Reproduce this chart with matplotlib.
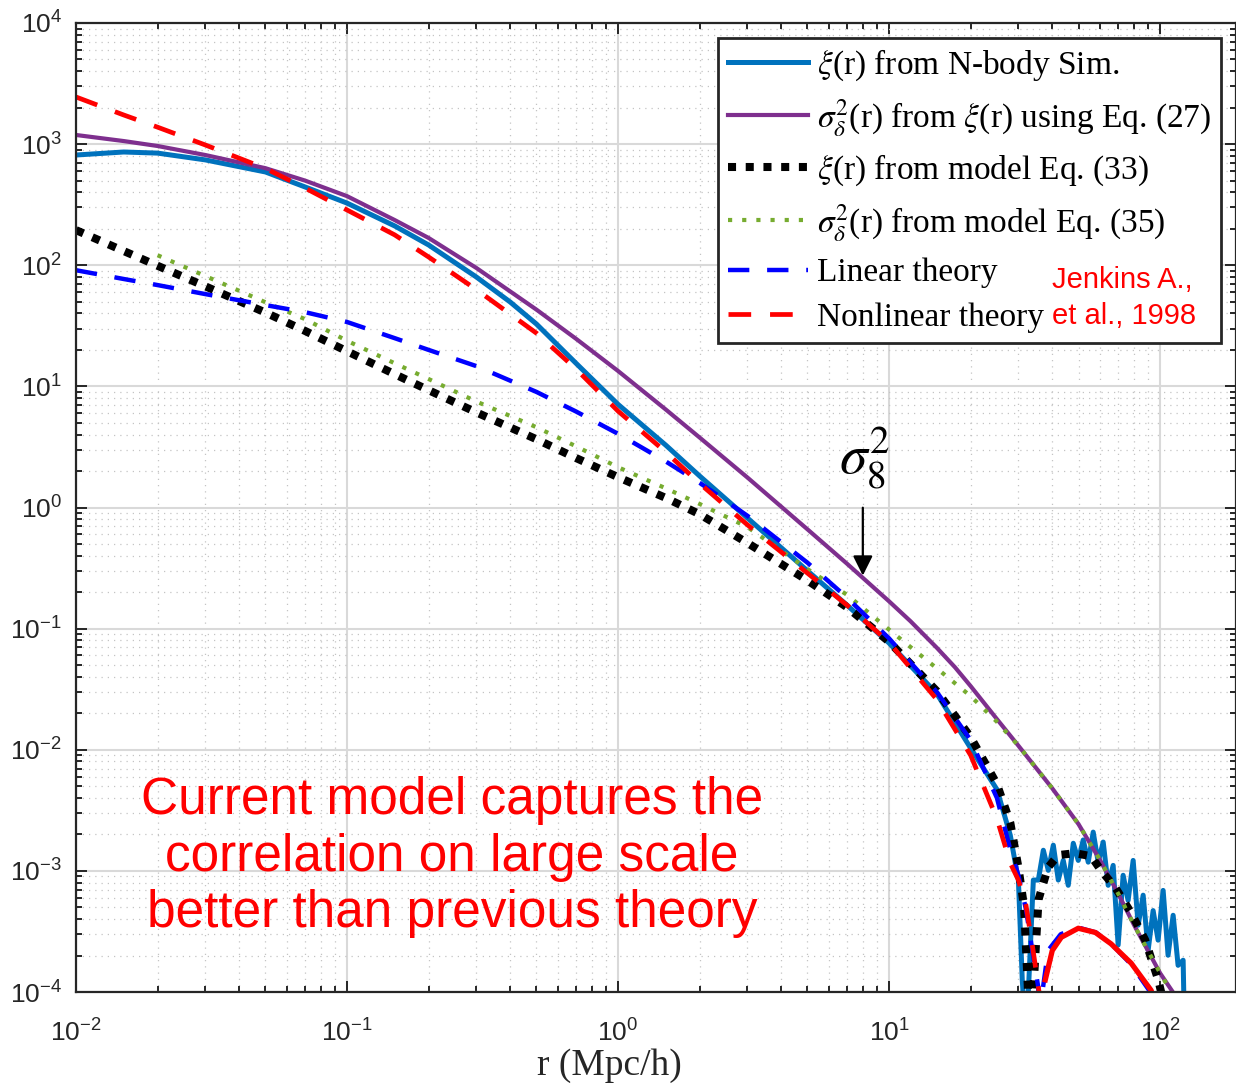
import matplotlib.pyplot as plt
from matplotlib.ticker import LogLocator, NullFormatter

# xi(r) from N-body simulation (blue solid), noisy past the zero crossing
r_nbody = [0.01, 0.015, 0.02, 0.03, 0.05, 0.07, 0.1, 0.15, 0.2, 0.3, 0.4, 0.5,
           0.7, 1, 1.5, 2, 3, 5, 7, 10, 15, 20, 25, 28, 30, 31, 31.8,
           32.65, 34.06, 35.53, 37.08, 38.68, 40.36, 42.10, 43.92, 45.82, 47.82,
           49.89, 52.04, 54.30, 56.64, 59.09, 61.66, 64.33, 67.11, 70.01, 73.04,
           76.20, 79.54, 82.99, 86.58, 90.33, 94.24, 98.31, 102.6, 107.0, 111.7,
           116.5, 121.6, 123]
xi_nbody = [813, 861, 843, 741, 589, 443, 326, 211, 147, 80, 49.7, 32.7,
            15.5, 7.1, 3.27, 1.82, 0.82, 0.30, 0.156, 0.076, 0.029, 0.0103,
            4.7e-3, 1.97e-3, 8.4e-4, 1.26e-4, 5e-5,
            1.0e-4, 8.4e-4, 8.4e-4, 1.48e-3, 1.01e-3, 1.63e-3, 8.4e-4, 1.22e-3,
            7.6e-4, 1.69e-3, 1.22e-3, 1.80e-3, 1.18e-3, 2.09e-3, 1.18e-3, 1.73e-3,
            7.6e-4, 1.11e-3, 2.44e-4, 9.2e-4, 5.7e-4, 1.22e-3, 3.56e-4, 6.3e-4,
            2.21e-4, 4.7e-4, 2.68e-4, 6.9e-4, 2.01e-4, 4.3e-4, 1.66e-4, 1.83e-4,
            5e-5]

# sigma^2(r) from xi(r) using Eq. (27) (purple)
r_sig = [0.01, 0.015, 0.02, 0.03, 0.05, 0.07, 0.1, 0.15, 0.2, 0.3, 0.5, 0.7,
         1, 1.5, 2, 3, 5, 7, 10, 12, 15, 17.5, 20, 25, 30, 40, 50, 60, 70, 80,
         100, 115]
sig_nbody = [1190, 1060, 965, 813, 633, 500, 372, 236, 168, 95, 43, 24.7,
             13.4, 6.44, 3.78, 1.77, 0.66, 0.343, 0.168, 0.115, 0.0695, 0.048,
             0.0335, 0.0179, 0.0108, 4.8e-3, 2.43e-3, 1.23e-3, 6.5e-4, 3.6e-4,
             1.43e-4, 9e-5]

# xi(r) from model Eq. (33) (black dotted)
r_model = [0.01, 0.015, 0.02, 0.03, 0.05, 0.07, 0.1, 0.15, 0.2, 0.3, 0.5, 0.7,
           1, 1.5, 2, 3, 5, 7, 10, 15, 20, 25, 28, 30, 31.5, 32.5, 33,
           35.6, 38.6, 42.1, 48.6, 55.7, 60.7, 68.3, 78.2, 88.0, 98.4, 102]
xi_model = [195, 131, 99, 67, 40.7, 28.7, 19.5, 12.6, 9.3, 6.1, 3.66, 2.56,
            1.78, 1.2, 0.88, 0.51, 0.25, 0.15, 0.078, 0.0305, 0.0127, 5.2e-3,
            2.5e-3, 1.07e-3, 5e-4, 1.1e-4, 3e-5,
            5.8e-4, 1.07e-3, 1.35e-3, 1.4e-3, 1.32e-3, 1.0e-3, 7.3e-4, 4.5e-4,
            2.7e-4, 1.26e-4, 9e-5]

# sigma^2(r) from model Eq. (35) (green dotted)
r_sig_model = [0.02, 0.03, 0.05, 0.07, 0.1, 0.15, 0.2, 0.3, 0.5, 0.7, 1, 1.5,
               2, 3, 5, 7, 10, 15, 20, 25, 30, 40, 50, 60, 70, 80, 100, 110]
sig_model = [121, 81.5, 49.5, 35.9, 23.8, 15.5, 11.5, 7.5, 4.6, 3.2, 2.15,
             1.44, 1.07, 0.69, 0.31, 0.19, 0.098, 0.047, 0.0277, 0.017, 0.0108,
             4.8e-3, 2.43e-3, 1.23e-3, 6.5e-4, 3.6e-4, 1.43e-4, 1e-4]

# Jenkins et al. 1998: linear theory (blue dashed)
r_lin = [0.01, 0.015, 0.02, 0.03, 0.05, 0.07, 0.1, 0.15, 0.2, 0.3, 0.5, 0.7,
         1, 1.5, 2, 3, 5, 7, 10, 15, 20, 25, 28, 30, 32, 34, 35.5, 36.5]
xi_lin = [91, 77, 68.6, 57.8, 46.9, 41, 34, 25, 20, 14.7, 9.0, 6.2, 4.06, 2.4,
          1.6, 0.855, 0.35, 0.18, 0.083, 0.030, 0.012, 4.0e-3, 1.5e-3, 9.2e-4,
          4.8e-4, 2.0e-4, 1.1e-4, 3e-5]
r_lin_far = [37, 38.6, 43, 50, 58, 66, 78, 92, 95]
xi_lin_far = [1.1e-4, 2.2e-4, 3.0e-4, 3.4e-4, 3.1e-4, 2.5e-4, 1.7e-4, 1.0e-4, 8e-5]

# Jenkins et al. 1998: nonlinear theory (red dashed)
r_nl = [0.01, 0.015, 0.02, 0.03, 0.05, 0.07, 0.1, 0.15, 0.2, 0.3, 0.5, 0.7,
        1, 1.5, 2, 3, 5, 7, 10, 15, 20, 25, 28, 30, 32, 34, 36, 37]
xi_nl = [2450, 1740, 1380, 984, 630, 434, 286, 178, 117, 63, 27.5, 13.9, 6.25,
         2.87, 1.58, 0.72, 0.287, 0.156, 0.077, 0.026, 9.0e-3, 2.7e-3, 1.16e-3,
         8.4e-4, 5.2e-4, 2.2e-4, 9e-5, 3e-5]
r_nl_far = [37.7, 40, 43.2, 49.9, 57.7, 65.9, 78.2, 92.7, 95]
xi_nl_far = [1.26e-4, 2.2e-4, 2.83e-4, 3.36e-4, 3.1e-4, 2.5e-4, 1.73e-4, 1.03e-4, 8e-5]

legend_labels = [r'$\xi$(r) from N-body Sim.',
                 r'$\sigma_\delta^2$(r) from $\xi$(r) using Eq. (27)',
                 r'$\xi$(r) from model Eq. (33)',
                 r'$\sigma_\delta^2$(r) from model Eq. (35)',
                 'Linear theory',
                 'Nonlinear theory']

plt.rcParams['font.family'] = ['Liberation Sans', 'DejaVu Sans']
plt.rcParams['mathtext.fontset'] = 'stix'

fig = plt.figure(figsize=(12.36, 10.91), dpi=100)
ax = fig.add_axes([76 / 1236, 1 - 992 / 1091, 1160 / 1236, 969 / 1091])

ax.plot(r_nbody, xi_nbody, color='#0072BD', lw=3.6, label=legend_labels[0])
ax.plot(r_sig, sig_nbody, color='#7E2F8E', lw=3.0, label=legend_labels[1])
ax.plot(r_model, xi_model, color='black', lw=5.8, linestyle=(0, (1, 1.2)),
        label=legend_labels[2])
ax.plot(r_sig_model, sig_model, color='#77AC30', lw=3.0, linestyle=(0, (1, 2.4)),
        label=legend_labels[3])
ax.plot(r_lin, xi_lin, color='#0000FF', lw=3.2, linestyle=(0, (4.8, 4)),
        label=legend_labels[4])
ax.plot(r_lin_far, xi_lin_far, color='#0000FF', lw=3.2, linestyle=(0, (4.8, 4)))
ax.plot(r_nl, xi_nl, color='#FF0000', lw=3.4, linestyle=(0, (4.8, 4)),
        label=legend_labels[5])
ax.plot(r_nl_far, xi_nl_far, color='#FF0000', lw=3.8)

ax.set_xscale('log')
ax.set_yscale('log')
ax.set_xlim(1e-2, 10 ** 2.28)
ax.set_ylim(1e-4, 1e4)

ax.xaxis.set_major_locator(LogLocator(base=10, numticks=20))
ax.yaxis.set_major_locator(LogLocator(base=10, numticks=20))
ax.xaxis.set_minor_locator(LogLocator(base=10, subs=range(2, 10), numticks=100))
ax.yaxis.set_minor_locator(LogLocator(base=10, subs=range(2, 10), numticks=100))
ax.xaxis.set_minor_formatter(NullFormatter())
ax.yaxis.set_minor_formatter(NullFormatter())

ax.grid(True, which='major', color='#d9d9d9', lw=1.5, linestyle='-')
ax.grid(True, which='minor', color='#c4c4c4', lw=0.9, linestyle=(0, (1, 4)))
ax.set_axisbelow(True)

for side in ['left', 'bottom', 'top', 'right']:
    ax.spines[side].set_color('#262626')
    ax.spines[side].set_linewidth(1.6)

ax.tick_params(which='both', direction='in', top=True, right=True,
               colors='#262626', width=1.4)
ax.tick_params(which='major', length=8, labelsize=19)
ax.tick_params(which='minor', length=4)
ax.tick_params(axis='y', which='major', pad=10)
ax.tick_params(axis='x', which='major', pad=20)

ax.set_xlabel('r (Mpc/h)', family='Liberation Serif', fontsize=27,
              color='#262626')
ax.xaxis.set_label_coords(0.46, -0.058)

leg = ax.legend(loc='upper right', bbox_to_anchor=(0.987, 0.985),
                prop={'family': 'Liberation Serif', 'size': 24},
                handlelength=2.4, handletextpad=0.25, labelspacing=0.42,
                borderpad=0.3, borderaxespad=0, fancybox=False,
                framealpha=1, edgecolor='#262626')
leg.get_frame().set_linewidth(2.0)

fig.text(1052 / 1236, 1 - 280 / 1091, 'Jenkins A.,', color='#FF0000',
         fontsize=21, ha='left', va='center')
fig.text(1052 / 1236, 1 - 316 / 1091, 'et al., 1998', color='#FF0000',
         fontsize=21, ha='left', va='center')

ax.text(0.324, 0.139, 'Current model captures the\ncorrelation on large scale\n'
        'better than previous theory', transform=ax.transAxes,
        color='#FF0000', fontsize=37, ha='center', va='center',
        linespacing=1.2)

# sigma_8 marker
ax.annotate('', xy=(8.0, 0.26), xytext=(8.0, 1.05),
            arrowprops=dict(arrowstyle='-|>', color='black', lw=1.6,
                            mutation_scale=30))
ax.text(8.15, 2.6, r'$\sigma_8^2$', fontsize=40, ha='center', va='center',
        color='black')

fig.savefig('out.png', dpi=100)
